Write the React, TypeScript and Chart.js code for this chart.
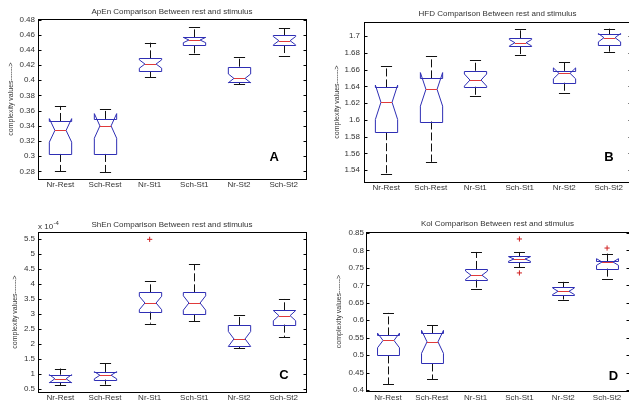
import React, { useEffect, useRef } from 'react';
import { Chart, registerables } from 'chart.js';

Chart.register(...registerables);

// ---------------- DATA ----------------
const categories = ['Nr-Rest', 'Sch-Rest', 'Nr-St1', 'Sch-St1', 'Nr-St2', 'Sch-St2'];

// Panel A : ApEn
const apenWhiskerLow = [0.2803, 0.279, 0.4039, 0.4346, 0.3947, 0.432];
const apenQ1 = [0.303, 0.303, 0.4122, 0.446, 0.3973, 0.4464];
const apenMedian = [0.334, 0.3399, 0.4214, 0.453, 0.4025, 0.4521];
const apenQ3 = [0.3464, 0.3491, 0.4289, 0.4565, 0.4179, 0.4592];
const apenWhiskerHigh = [0.3662, 0.3619, 0.4495, 0.4706, 0.4302, 0.4688];
const apenNotch = [0.0155, 0.0162, 0.0055, 0.0035, 0.0058, 0.0055];
const apenOutliers: [number, number][] = [];
const apenTicks = [0.28, 0.3, 0.32, 0.34, 0.36, 0.38, 0.4, 0.42, 0.44, 0.46, 0.48];

// Panel B : HFD
const hfdWhiskerLow = [1.5352, 1.55, 1.6284, 1.6769, 1.6323, 1.6813];
const hfdQ1 = [1.5854, 1.5981, 1.6395, 1.688, 1.6443, 1.6893];
const hfdMedian = [1.621, 1.6364, 1.6475, 1.692, 1.6555, 1.698];
const hfdQ3 = [1.6387, 1.6495, 1.6586, 1.6972, 1.6585, 1.702];
const hfdWhiskerHigh = [1.6642, 1.6761, 1.6713, 1.708, 1.6694, 1.7088];
const hfdNotch = [0.0205, 0.02, 0.0072, 0.0038, 0.0065, 0.005];
const hfdOutliers: [number, number][] = [];
const hfdTicks = [1.54, 1.56, 1.58, 1.6, 1.62, 1.64, 1.66, 1.68, 1.7];

// Panel C : ShEn (values in units of 10^-4)
const shenWhiskerLow = [0.61, 0.634, 2.67, 2.75, 1.86, 2.226];
const shenQ1 = [0.71, 0.8, 3.072, 2.994, 1.914, 2.638];
const shenMedian = [0.83, 0.946, 3.362, 3.362, 2.16, 2.939];
const shenQ3 = [0.965, 1.057, 3.718, 3.718, 2.627, 3.117];
const shenWhiskerHigh = [1.171, 1.36, 4.097, 4.665, 2.95, 3.496];
const shenNotch = [0.135, 0.12, 0.225, 0.24, 0.25, 0.17];
const shenOutliers: [number, number][] = [[2, 5.49]];
const shenTicks = [0.5, 1, 1.5, 2, 2.5, 3, 3.5, 4, 4.5, 5, 5.5];

// Panel D : Kol
const kolWhiskerLow = [0.416, 0.43, 0.69, 0.752, 0.6593, 0.7184];
const kolQ1 = [0.499, 0.476, 0.7165, 0.766, 0.6717, 0.748];
const kolMedian = [0.542, 0.538, 0.729, 0.7756, 0.683, 0.767];
const kolQ3 = [0.5564, 0.562, 0.747, 0.7833, 0.6946, 0.769];
const kolWhiskerHigh = [0.621, 0.586, 0.7957, 0.7957, 0.71, 0.791];
const kolNotch = [0.021, 0.033, 0.012, 0.0065, 0.0095, 0.0095];
const kolOutliers: [number, number][] = [[3, 0.833], [3, 0.7356], [5, 0.807]];
const kolTicks = [0.4, 0.45, 0.5, 0.55, 0.6, 0.65, 0.7, 0.75, 0.8, 0.85];

const yAxisTitle = 'complexity values------>';

// ---------------- STYLE ----------------
const FONT = "'Liberation Sans', Arial, sans-serif";
const TEXT_COLOR = '#333';
const BOX_COLOR = '#2e2eb4';
const MEDIAN_COLOR = '#e03a3a';
const OUTLIER_COLOR = '#d02020';
const BOX_WIDTH = 0.5;
const CAP_WIDTH = 0.25;

type Layout = {
  x: number; y: number; w: number; h: number;
  yW: number; padR: number; xH: number;
  titleTop: number; titleBottom: number;
  yTitlePad: number; yTickPad: number; xTickPad: number;
  letterDx: number; letterDy: number;
};

type Panel = {
  title: string; letter: string; exponent?: boolean;
  wLo: number[]; q1: number[]; med: number[]; q3: number[]; wHi: number[]; notch: number[];
  outliers: [number, number][]; ticks: number[]; min: number; max: number;
  layout: Layout;
};

const panels: Panel[] = [
  {
    title: 'ApEn Comparison Between rest and stimulus', letter: 'A',
    wLo: apenWhiskerLow, q1: apenQ1, med: apenMedian, q3: apenQ3, wHi: apenWhiskerHigh, notch: apenNotch,
    outliers: apenOutliers, ticks: apenTicks, min: 0.27, max: 0.4807,
    layout: { x: 0, y: 0, w: 314, h: 200, yW: 38, padR: 8, xH: 21, titleTop: 6.9, titleBottom: 2.5,
      yTitlePad: 7, yTickPad: 3, xTickPad: 1, letterDx: 31.7, letterDy: 21.7 },
  },
  {
    title: 'HFD Comparison Between rest and stimulus', letter: 'B',
    wLo: hfdWhiskerLow, q1: hfdQ1, med: hfdMedian, q3: hfdQ3, wHi: hfdWhiskerHigh, notch: hfdNotch,
    outliers: hfdOutliers, ticks: hfdTicks, min: 1.526, max: 1.7167,
    layout: { x: 314, y: 0, w: 320, h: 200, yW: 50, padR: 3, xH: 18, titleTop: 9.2, titleBottom: 3.2,
      yTitlePad: 18.5, yTickPad: 4, xTickPad: 1, letterDx: 22, letterDy: 25 },
  },
  {
    title: 'ShEn Comparison Between rest and stimulus', letter: 'C', exponent: true,
    wLo: shenWhiskerLow, q1: shenQ1, med: shenMedian, q3: shenQ3, wHi: shenWhiskerHigh, notch: shenNotch,
    outliers: shenOutliers, ticks: shenTicks, min: 0.386, max: 5.735,
    layout: { x: 0, y: 200, w: 314, h: 202, yW: 38, padR: 8, xH: 10, titleTop: 20.2, titleBottom: 2.2,
      yTitlePad: 11, yTickPad: 3, xTickPad: 1, letterDx: 22, letterDy: 16.7 },
  },
  {
    title: 'Kol Comparison Between rest and stimulus', letter: 'D',
    wLo: kolWhiskerLow, q1: kolQ1, med: kolMedian, q3: kolQ3, wHi: kolWhiskerHigh, notch: kolNotch,
    outliers: kolOutliers, ticks: kolTicks, min: 0.397, max: 0.853,
    layout: { x: 314, y: 200, w: 320, h: 202, yW: 52, padR: 3, xH: 11, titleTop: 19.2, titleBottom: 3.2,
      yTitlePad: 21, yTickPad: 2, xTickPad: 2, letterDx: 15.5, letterDy: 14.3 },
  },
];

const crisp = (v: number) => Math.round(v) + 0.5;

function makePlugin(p: Panel) {
  return {
    id: 'notchedBoxes',
    beforeDatasetsDraw(chart: any) {
      const ctx = chart.ctx;
      const xs = chart.scales.x;
      const ys = chart.scales.y;
      const unit = xs.getPixelForValue(1) - xs.getPixelForValue(0);
      const hw = (unit * BOX_WIDTH) / 2;
      const nw = hw / 2;
      const cw = (unit * CAP_WIDTH) / 2;
      const Y = (v: number) => ys.getPixelForValue(v);
      ctx.save();
      ctx.lineWidth = 1;
      categories.forEach((_, i) => {
        const cx = crisp(xs.getPixelForValue(i));
        // whiskers (dashed)
        ctx.strokeStyle = '#111';
        ctx.setLineDash([8, 3]);
        ctx.beginPath();
        ctx.moveTo(cx, Y(p.q3[i]));
        ctx.lineTo(cx, Y(p.wHi[i]));
        ctx.moveTo(cx, Y(p.q1[i]));
        ctx.lineTo(cx, Y(p.wLo[i]));
        ctx.stroke();
        ctx.setLineDash([]);
        // caps
        ctx.beginPath();
        const yHi = crisp(Y(p.wHi[i]));
        const yLo = crisp(Y(p.wLo[i]));
        ctx.moveTo(cx - cw, yHi);
        ctx.lineTo(cx + cw, yHi);
        ctx.moveTo(cx - cw, yLo);
        ctx.lineTo(cx + cw, yLo);
        ctx.stroke();
        // notched box
        const nlo = p.med[i] - p.notch[i];
        const nhi = p.med[i] + p.notch[i];
        const l = cx - hw, r = cx + hw;
        ctx.strokeStyle = BOX_COLOR;
        ctx.beginPath();
        ctx.moveTo(l, crisp(Y(p.q1[i])));
        ctx.lineTo(l, Y(nlo));
        ctx.lineTo(cx - nw, Y(p.med[i]));
        ctx.lineTo(l, Y(nhi));
        ctx.lineTo(l, crisp(Y(p.q3[i])));
        ctx.lineTo(r, crisp(Y(p.q3[i])));
        ctx.lineTo(r, Y(nhi));
        ctx.lineTo(cx + nw, Y(p.med[i]));
        ctx.lineTo(r, Y(nlo));
        ctx.lineTo(r, crisp(Y(p.q1[i])));
        ctx.closePath();
        ctx.stroke();
        // median
        ctx.strokeStyle = MEDIAN_COLOR;
        ctx.beginPath();
        const ym = crisp(Y(p.med[i]));
        ctx.moveTo(cx - nw, ym);
        ctx.lineTo(cx + nw, ym);
        ctx.stroke();
      });
      ctx.restore();
    },
    afterDraw(chart: any) {
      const ctx = chart.ctx;
      const ca = chart.chartArea;
      const ys = chart.scales.y;
      const L = p.layout;
      ctx.save();
      ctx.strokeStyle = '#000';
      ctx.lineWidth = 1;
      const l = crisp(ca.left), r = crisp(ca.right), t = crisp(ca.top), b = crisp(ca.bottom);
      ctx.strokeRect(l, t, r - l, b - t);
      ctx.beginPath();
      ys.ticks.forEach((tk: any) => {
        const y = crisp(ys.getPixelForValue(tk.value));
        ctx.moveTo(l, y);
        ctx.lineTo(l + 3, y);
        ctx.moveTo(r, y);
        ctx.lineTo(r - 3, y);
      });
      ctx.stroke();
      // panel letter
      ctx.fillStyle = '#000';
      ctx.font = `bold 13px ${FONT}`;
      ctx.textAlign = 'center';
      ctx.textBaseline = 'middle';
      ctx.fillText(p.letter, ca.right - L.letterDx, ca.bottom - L.letterDy);
      // exponent label
      if (p.exponent) {
        ctx.fillStyle = TEXT_COLOR;
        ctx.textAlign = 'left';
        ctx.textBaseline = 'alphabetic';
        ctx.font = `8px ${FONT}`;
        const base = 'x 10';
        ctx.fillText(base, ca.left, ca.top - 3.5);
        const w = ctx.measureText(base).width;
        ctx.font = `6px ${FONT}`;
        ctx.fillText('-4', ca.left + w + 0.5, ca.top - 7.5);
      }
      ctx.restore();
    },
  };
}

const fmt = (v: number) => String(parseFloat(Number(v).toFixed(4)));

function BoxPanel({ panel }: { panel: Panel }) {
  const ref = useRef<HTMLCanvasElement>(null);
  useEffect(() => {
    const L = panel.layout;
    const chart = new Chart(ref.current as HTMLCanvasElement, {
      type: 'scatter',
      data: {
        labels: categories,
        datasets: [
          {
            data: panel.outliers.map(([i, v]) => ({ x: categories[i], y: v })) as any,
            pointStyle: 'cross',
            pointRadius: 2.6,
            borderColor: OUTLIER_COLOR,
            backgroundColor: OUTLIER_COLOR,
            borderWidth: 1,
          },
        ],
      },
      options: {
        responsive: false,
        animation: false,
        devicePixelRatio: 1,
        layout: { padding: { top: 0, left: 0, right: L.padR, bottom: 0 } },
        plugins: {
          legend: { display: false },
          tooltip: { enabled: false },
          title: {
            display: true,
            text: panel.title,
            fullSize: false,
            color: TEXT_COLOR,
            font: { family: FONT, size: 8, weight: 'normal' as any },
            padding: { top: L.titleTop, bottom: L.titleBottom },
          },
        },
        scales: {
          x: {
            type: 'category',
            offset: true,
            grid: { display: false, drawTicks: false },
            border: { display: false },
            ticks: {
              autoSkip: false,
              maxRotation: 0,
              padding: L.xTickPad,
              color: TEXT_COLOR,
              font: { family: FONT, size: 8 },
            },
            afterFit: (s: any) => { s.height = L.xH; },
          },
          y: {
            type: 'linear',
            min: panel.min,
            max: panel.max,
            grid: { display: false, drawTicks: false },
            border: { display: false },
            ticks: {
              padding: L.yTickPad,
              color: TEXT_COLOR,
              font: { family: FONT, size: 8 },
              callback: (v: any) => fmt(v),
            },
            afterBuildTicks: (s: any) => { s.ticks = panel.ticks.map((v) => ({ value: v })); },
            afterFit: (s: any) => { s.width = L.yW; },
            title: {
              display: true,
              text: yAxisTitle,
              color: TEXT_COLOR,
              font: { family: FONT, size: 7 },
              padding: { top: L.yTitlePad, bottom: 0 },
            },
          },
        },
      } as any,
      plugins: [makePlugin(panel)],
    });
    return () => chart.destroy();
  }, [panel]);
  const L = panel.layout;
  return (
    <canvas
      ref={ref}
      width={L.w}
      height={L.h}
      style={{ position: 'absolute', left: L.x, top: L.y, width: L.w, height: L.h }}
    />
  );
}

export default function App() {
  return (
    <div
      style={{
        position: 'absolute', left: 0, top: 0, width: 629, height: 402,
        overflow: 'hidden', background: '#fff',
      }}
    >
      {panels.map((p) => (
        <BoxPanel key={p.letter} panel={p} />
      ))}
    </div>
  );
}
